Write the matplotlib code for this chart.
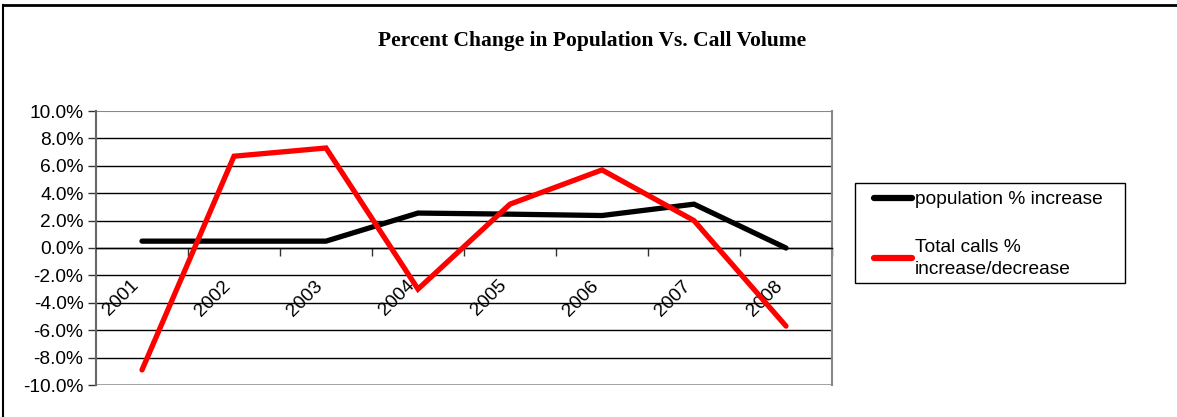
import matplotlib.pyplot as plt
from matplotlib.lines import Line2D
from matplotlib.patches import Rectangle
from matplotlib.ticker import FuncFormatter, FixedLocator

years = ["2001", "2002", "2003", "2004", "2005", "2006", "2007", "2008"]
population = [0.5, 0.5, 0.5, 2.55, 2.47, 2.37, 3.2, 0.0]
calls = [-8.9, 6.7, 7.3, -3.0, 3.2, 5.7, 2.0, -5.7]

plt.rcParams['font.family'] = ['Liberation Sans', 'DejaVu Sans']

fig = plt.figure(figsize=(11.77, 4.17), dpi=100)
W, H = 1177, 417
ax = fig.add_axes([96 / W, 1 - 385 / H, (832 - 96) / W, (385 - 111) / H])

x = list(range(len(years)))
ax.plot(x, population, color="black", lw=3.8, solid_capstyle="round",
        solid_joinstyle="miter", label="population % increase", zorder=3)
ax.plot(x, calls, color="#ff0000", lw=3.8, solid_capstyle="round",
        solid_joinstyle="miter", label="Total calls %\nincrease/decrease", zorder=4)

ax.set_xlim(-0.5, len(years) - 0.5)
ax.set_ylim(-10, 10)
ax.set_yticks(range(-10, 11, 2))
ax.yaxis.set_major_formatter(FuncFormatter(lambda v, p: f"{v:.1f}%"))
ax.tick_params(axis="y", direction="out", length=6, width=1, color="#333333",
               labelsize=13.8, pad=3)
for v in range(-8, 10, 2):
    ax.axhline(v, color="black", lw=1, zorder=1)
ax.axhline(10, color="#888888", lw=1.5, zorder=1)

# category axis crossing at zero
ax.spines["bottom"].set_position(("data", 0))
ax.spines["bottom"].set_color("black")
ax.spines["bottom"].set_linewidth(1)
ax.spines["top"].set_visible(False)
ax.spines["right"].set_color("#888888")
ax.spines["right"].set_linewidth(1.5)
ax.spines["left"].set_color("#666666")
ax.spines["left"].set_linewidth(1.5)
ax.axhline(-10, color="#999999", lw=2, zorder=1)

ax.set_xticks(x)
ax.set_xticklabels(years, rotation=45, ha="right", va="top")
ax.xaxis.set_minor_locator(FixedLocator([i - 0.5 for i in range(1, len(years) + 1)]))
ax.tick_params(axis="x", which="major", length=0, labelsize=13.8, pad=21)
ax.tick_params(axis="x", which="minor", length=6, width=1, color="#333333", direction="out")

# legend box drawn separately (Excel-like wide side padding)
fig.add_artist(Rectangle((855 / W, 1 - 283 / H), (1125 - 855) / W, (283 - 183) / H,
                         transform=fig.transFigure, fill=False, edgecolor="black", lw=1))
leg = ax.legend(loc="upper left", bbox_to_anchor=(874 / W, 1 - 191 / H), bbox_transform=fig.transFigure,
                fontsize=13.8, frameon=False, handlelength=2.0, handletextpad=0.15,
                labelspacing=1.6, borderpad=0, borderaxespad=0)
for t in leg.get_texts():
    t.set_linespacing(1.4)
for h in leg.legend_handles:
    h.set_linewidth(4.5)

fig.text(592 / W, 1 - 41 / H, "Percent Change in Population Vs. Call Volume",
         ha="center", va="center", fontsize=15.5, fontweight="bold", family="Liberation Serif")

# outer chart border (top and left edges visible)
fig.add_artist(Line2D([3 / W, 1], [1 - 5 / H, 1 - 5 / H], color="black", lw=2, transform=fig.transFigure))
fig.add_artist(Line2D([3 / W, 3 / W], [0, 1 - 5 / H], color="black", lw=1.5, transform=fig.transFigure))

fig.savefig("out.png", dpi=100)
